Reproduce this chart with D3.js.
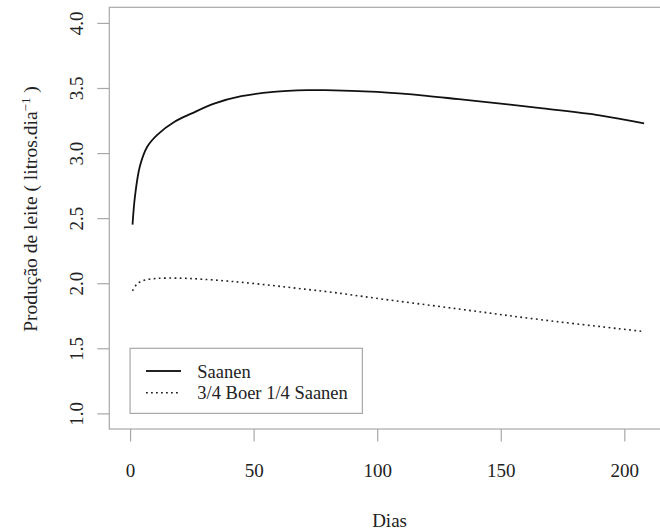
<!DOCTYPE html>
<html>
<head>
<meta charset="utf-8">
<script src="https://cdn.jsdelivr.net/npm/d3@7"></script>
<style>
  body { margin: 0; background: #fff; }
  text { font-family: "Liberation Serif", "Times New Roman", serif; fill: #222; }
</style>
</head>
<body>
<div></div>
<script>
var width = 660;
var height = 531;

// valores
var diasSaanen = [1, 2, 4, 7, 11, 18, 25, 34, 45, 58, 72, 79, 100, 120, 133, 150, 167, 190, 208];
var saanen = [2.45, 2.67, 2.90, 3.05, 3.14, 3.24, 3.305, 3.38, 3.437, 3.47, 3.483, 3.484, 3.47, 3.44, 3.414, 3.38, 3.343, 3.29, 3.228];
var diasBoer = [1, 3, 6, 11, 20, 29, 41, 55, 68, 82, 99, 133, 167, 208];
var boer = [1.942, 1.998, 2.024, 2.037, 2.039, 2.031, 2.014, 1.988, 1.96, 1.93, 1.886, 1.802, 1.718, 1.629];
var xTicks = [0, 50, 100, 150, 200];
var yTicks = [1.0, 1.5, 2.0, 2.5, 3.0, 3.5, 4.0];
var legendLabels = ["Saanen", "3/4 Boer 1/4 Saanen"];

// "top" é reservado no window, por isso nomes com prefixo
var plotLeft = 109.3, plotRight = 669.8, plotTop = 7.3, plotBottom = 429;

var svg = d3.select("div")
    .append("svg")
    .attr("width", width)
    .attr("height", height);

var x = d3.scaleLinear().domain([-8.4, 218.4]).range([plotLeft, plotRight]);
var y = d3.scaleLinear().domain([0.88, 4.12]).range([plotBottom, plotTop]);

var axisColor = "#a8a8a8";

// caixa
svg.append("rect")
    .attr("x", plotLeft)
    .attr("y", plotTop)
    .attr("width", plotRight - plotLeft)
    .attr("height", plotBottom - plotTop)
    .attr("fill", "none")
    .attr("stroke", axisColor)
    .attr("stroke-width", 1.2);

// eixo x
var gx = svg.append("g")
    .attr("transform", "translate(0," + plotBottom + ")")
    .call(d3.axisBottom(x).tickValues(xTicks).tickSize(12.5).tickFormat(d3.format("d")));
gx.select(".domain").remove();
gx.selectAll("line").attr("stroke", axisColor).attr("stroke-width", 1.2);
gx.selectAll("text")
    .attr("font-size", "19px")
    .attr("font-family", "Liberation Serif, serif")
    .attr("fill", "#222")
    .attr("dy", null)
    .attr("y", 48);

// eixo y
var gy = svg.append("g")
    .attr("transform", "translate(" + plotLeft + ",0)")
    .call(d3.axisLeft(y).tickValues(yTicks).tickSize(12).tickFormat(d3.format(".1f")));
gy.select(".domain").remove();
gy.selectAll("line").attr("stroke", axisColor).attr("stroke-width", 1.2);
gy.selectAll("text")
    .attr("font-size", "19px")
    .attr("font-family", "Liberation Serif, serif")
    .attr("fill", "#222")
    .attr("x", null)
    .attr("dy", null)
    .attr("text-anchor", "middle")
    .attr("transform", "translate(" + (83 - plotLeft) + ",0) rotate(-90)");

// curvas
var line = d3.line()
    .x(function (d) { return x(d[0]); })
    .y(function (d) { return y(d[1]); })
    .curve(d3.curveCatmullRom.alpha(0.5));

svg.append("path")
    .datum(d3.zip(diasSaanen, saanen))
    .attr("d", line)
    .attr("fill", "none")
    .attr("stroke", "#111")
    .attr("stroke-width", 1.8);

svg.append("path")
    .datum(d3.zip(diasBoer, boer))
    .attr("d", line)
    .attr("fill", "none")
    .attr("stroke", "#222")
    .attr("stroke-width", 1.6)
    .attr("stroke-dasharray", "1.8,3.4");

// legenda
var lg = svg.append("g");
lg.append("rect")
    .attr("x", x(0))
    .attr("y", y(1.5))
    .attr("width", 232.3)
    .attr("height", y(1.0) - y(1.5))
    .attr("fill", "#fff")
    .attr("stroke", axisColor)
    .attr("stroke-width", 1.2);

var dashes = [null, "1.8,3.2"];
var rowsY = [371, 392.7];
legendLabels.forEach(function (lab, i) {
    lg.append("line")
        .attr("x1", 146)
        .attr("x2", 181)
        .attr("y1", rowsY[i])
        .attr("y2", rowsY[i])
        .attr("stroke", "#222")
        .attr("stroke-width", i == 0 ? 1.8 : 1.6)
        .attr("stroke-dasharray", dashes[i]);
    lg.append("text")
        .attr("x", 197.3)
        .attr("y", rowsY[i] + 6.5)
        .attr("font-size", "18.5px")
        .text(lab);
});

// títulos
svg.append("text")
    .attr("x", x(105))
    .attr("y", 527)
    .attr("text-anchor", "middle")
    .attr("font-size", "19px")
    .text("Dias");

var yl = svg.append("text")
    .attr("transform", "translate(36.5,209) rotate(-90)")
    .attr("text-anchor", "middle")
    .attr("font-size", "19.5px");
yl.append("tspan").text("Produção de leite ( litros.dia");
yl.append("tspan").attr("dy", -7).attr("font-size", "13px").text("−1");
yl.append("tspan").attr("dy", 7).text(" )");
</script>
</body>
</html>
